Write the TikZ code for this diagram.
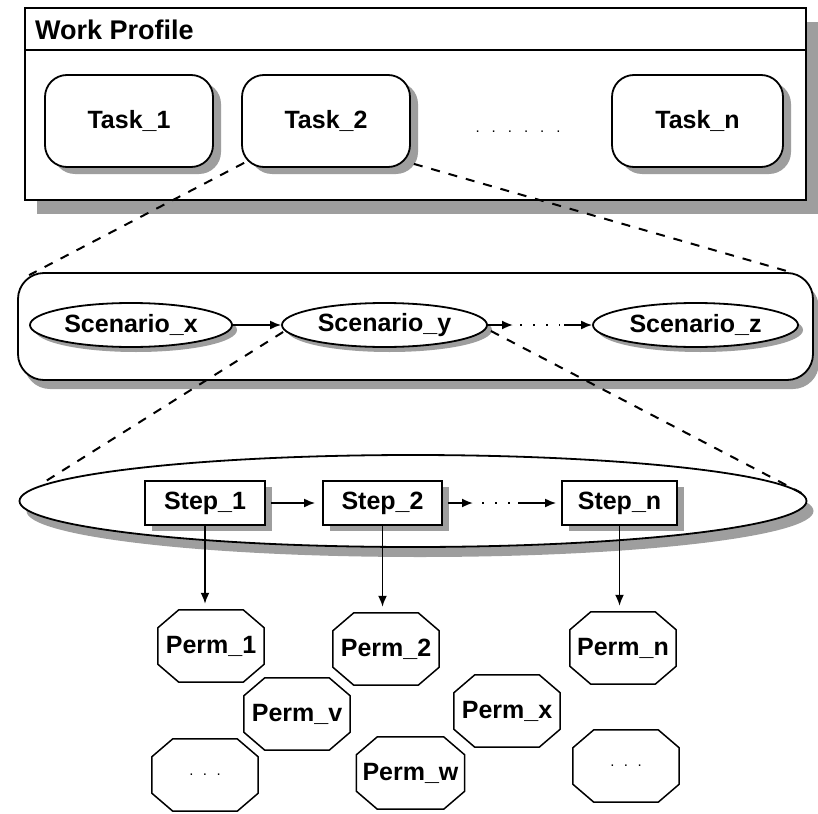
\documentclass[tikz,border=0pt]{standalone}
\usepackage{fontspec}
\setmainfont{Liberation Sans}
\usetikzlibrary{shapes.geometric,shadows,arrows.meta,calc}
\pgfdeclarelayer{bg}
\pgfsetlayers{bg,main}
\newcommand{\octpath}[1]{($(#1.north west)+(21,0)$) -- ($(#1.north east)+(-21,0)$) -- ($(#1.north east)+(0,18)$) -- ($(#1.south east)+(0,-18)$) -- ($(#1.south east)+(-21,0)$) -- ($(#1.south west)+(21,0)$) -- ($(#1.south west)+(0,-18)$) -- ($(#1.north west)+(0,18)$) -- cycle}
\begin{document}
\begin{tikzpicture}[x=1pt,y=-1pt,
  lw/.style={line width=1.8pt},
  txt/.style={font=\fontsize{25}{30}\selectfont\bfseries},
  shd/.style 2 args={drop shadow={shadow xshift=#1pt,shadow yshift=-#2pt,fill=black!38,opacity=1}},
  wpbox/.style={draw,lw,fill=white,minimum width=781pt,minimum height=192pt,inner sep=0pt,shd={12}{14}},
  taskbox/.style={draw,lw,fill=white,rounded corners=22pt,minimum height=92pt,inner sep=0pt,txt,shd={8}{7}},
  scbox/.style={draw,lw,fill=white,rounded corners=26pt,minimum width=795pt,minimum height=107pt,inner sep=0pt,shd={6}{9}},
  scen/.style={draw,lw,fill=white,ellipse,minimum height=44pt,inner sep=0pt,txt,shd={5}{5}},
  bigell/.style={draw,lw,fill=white,ellipse,minimum width=787pt,minimum height=92pt,inner sep=0pt,shd={7}{10}},
  stepbox/.style={draw,lw,fill=white,rectangle,minimum height=44pt,inner sep=0pt,txt,shd={7}{6}},
  perm/.style={rectangle,minimum width=106pt,minimum height=72pt,inner sep=0pt,txt},
  permline/.style={draw,line width=1.5pt,fill=white},
  permshadow/.style={fill=black!38,shift={(4,4)}},
  arr/.style={lw,-{Latex[length=11pt,width=9pt]}},
  dotl/.style={line width=2pt,dash pattern=on 2pt off 11pt},
  dsh/.style={line width=2pt,dash pattern=on 9pt off 9pt},
  dotsfont/.style={font=\fontsize{15}{17}\selectfont,inner sep=0pt}
]
\useasboundingbox (0,0) rectangle (818,813);

% Work profile
\node[wpbox] (wp) at (415.5,104) {};
\draw[lw] ($(wp.north west)+(0,43)$) -- ($(wp.north east)+(0,43)$);
\node[anchor=west,font=\fontsize{27}{32}\selectfont\bfseries,inner sep=0pt] (wpt) at (35,30) {Work Profile};
\node[taskbox,minimum width=168pt] (t1) at (129,121) {Task\_1};
\node[taskbox,minimum width=168pt] (t2) at (326,121) {Task\_2};
\node[taskbox,minimum width=171pt] (tn) at (697.5,121) {Task\_n};
\node[dotsfont] (tdots) at (518,132) {.\hspace{12pt}.\hspace{12pt}.\hspace{12pt}.\hspace{12pt}.\hspace{12pt}.};

% Scenario box
\node[scbox] (sb) at (415.5,326.5) {};
\node[scen,minimum width=202pt] (sx) at (131,325) {Scenario\_x};
\node[scen,minimum width=205pt] (sy) at (384.5,325) {Scenario\_y};
\node[scen,minimum width=205pt] (sz) at (695.5,325) {Scenario\_z};
\coordinate (sa) at (513,325);
\coordinate (sc) at (520,325);
\coordinate (sd) at (560,325);
\coordinate (se) at (564,325);
\draw[arr] (sx.east) -- (sy.west);
\draw[arr] (sy.east) -- (sa);
\draw[dotl] (sc) -- (sd);
\draw[arr] (se) -- (sz.west);

% Step ellipse
\node[bigell] (be) at (413,501) {};
\node[stepbox,minimum width=120pt] (s1) at (205,503) {Step\_1};
\node[stepbox,minimum width=119pt] (s2) at (382.5,503) {Step\_2};
\node[stepbox,minimum width=115pt] (sn) at (619.5,503) {Step\_n};
\coordinate (ta) at (473,503);
\coordinate (tc) at (482,503);
\coordinate (td) at (514,503);
\coordinate (te) at (518,503);
\draw[arr,shorten <=5pt,shorten >=7pt] (s1.east) -- (s2.west);
\draw[arr,shorten <=5pt] (s2.east) -- (ta);
\draw[dotl] (tc) -- (td);
\draw[arr,shorten >=5pt] (te) -- (sn.west);

% Perms
\node[perm] (p1) at (211,646) {Perm\_1};
\node[perm] (p2) at (386,649) {Perm\_2};
\node[perm] (pn) at (623,648) {Perm\_n};
\node[perm] (pv) at (297,714) {Perm\_v};
\node[perm] (px) at (507,711) {Perm\_x};
\node[perm,minimum width=108pt] (pw) at (410.5,773) {Perm\_w};
\node[perm] (d1) at (205,775) {};
\node[perm] (d2) at (626,766) {};
\node[dotsfont] (d1t) at (d1) {.\hspace{9.5pt}.\hspace{9.5pt}.};
\node[dotsfont] (d2t) at (d2) {.\hspace{9.5pt}.\hspace{9.5pt}.};
\begin{pgfonlayer}{bg}
\foreach \p in {p1,p2,pn,pv,px,pw,d1,d2}{
  \fill[permshadow] \octpath{\p};
  \path[permline] \octpath{\p};
}
\end{pgfonlayer}

\draw[arr,shorten >=6pt] (s1.south) -- (s1.south |- p1.north);
\draw[arr,shorten >=6pt] (s2.south) -- (s2.south |- p2.north);
\draw[arr,shorten >=6pt] (sn.south) -- (sn.south |- pn.north);

% Zoom lines
\draw[dsh] ($(t2.south west)+(3,-5)$) -- ($(sb.north west)+(12,3)$);
\draw[dsh] ($(t2.south east)+(3,-4)$) -- ($(sb.north east)+(-20,1)$);
\draw[dsh] ($(sy.west)+(2,7)$) -- ($(be.west)+(21,-16)$);
\draw[dsh] ($(sy.east)+(3,6)$) -- ($(be.east)+(-6,-8)$);
\end{tikzpicture}
\end{document}
